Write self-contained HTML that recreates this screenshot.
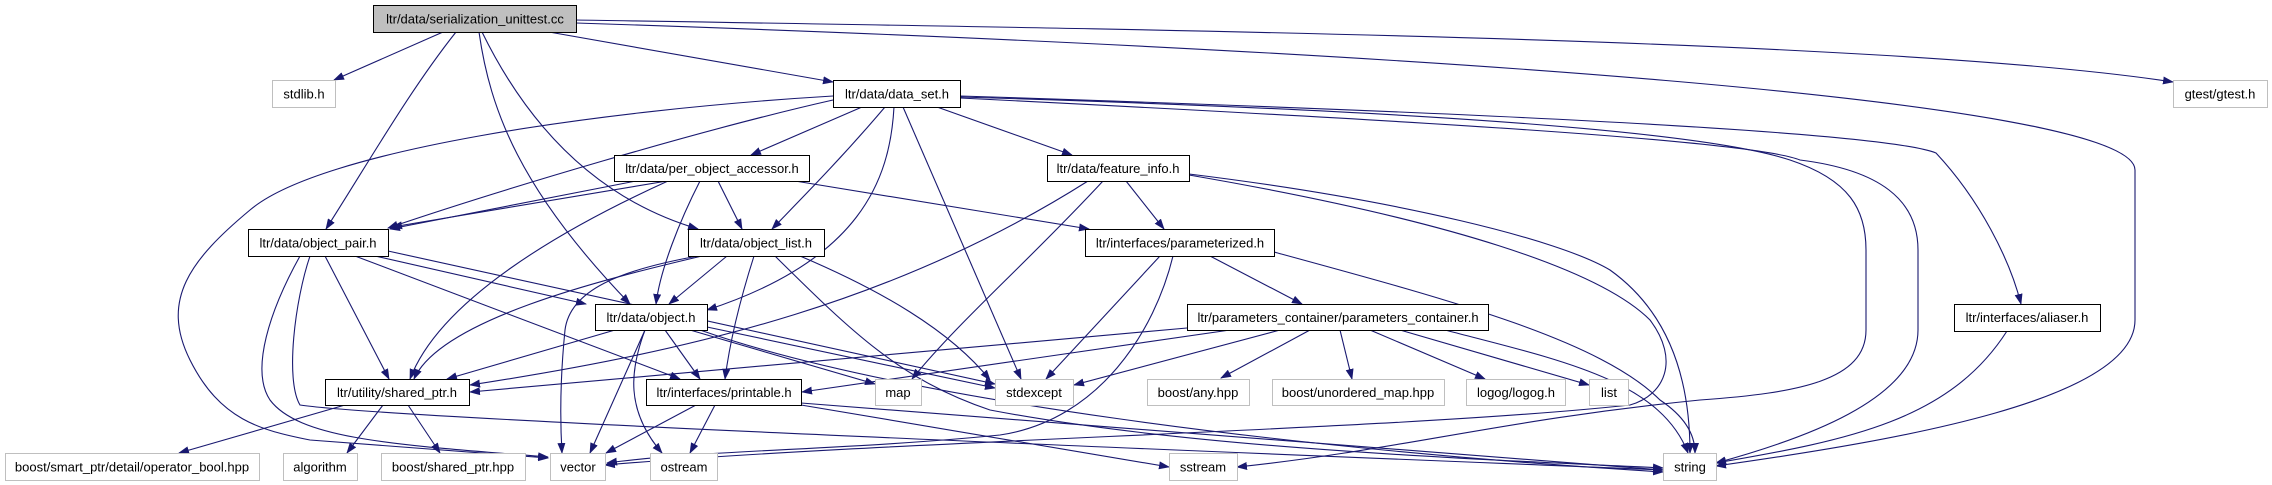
<!DOCTYPE html>
<html><head><meta charset="utf-8"><style>
html,body{margin:0;padding:0;background:#fff;width:2272px;height:485px;overflow:hidden}
text{font-family:"Liberation Sans",Arial,sans-serif;font-size:13px;fill:#000;text-anchor:middle}
.e{fill:none;stroke:#191970;stroke-width:1.1}
.n{fill:#fff;stroke:#000;stroke-width:1}
.x{fill:#fff;stroke:#bfbfbf;stroke-width:1}
</style></head><body>
<svg width="2272" height="485" viewBox="0 0 2272 485" xmlns="http://www.w3.org/2000/svg">
<defs><marker id="a" markerWidth="11" markerHeight="8" refX="10" refY="4" orient="auto" markerUnits="userSpaceOnUse"><path d="M0,0 L11,4 L0,8 z" fill="#191970"/></marker></defs>
<g class="e" marker-end="url(#a)">
<!-- S -->
<path d="M443,32 L334,80"/>
<path d="M456,32 C410,90 370,160 326,229"/>
<path d="M479,32 C490,110 520,190 630,304"/>
<path d="M482,32 C530,130 600,200 698,229"/>
<path d="M549,32 L833,82"/>
<path d="M576,20 C1200,30 1900,40 2173,82"/>
<path d="M576,23 C1400,50 2135,100 2135,170 L2135,320 C2135,400 1900,440 1716,466"/>
<!-- DS -->
<path d="M833,96 C600,110 320,150 250,210 C190,260 160,300 190,360 C220,420 260,430 310,440 L548,458"/>
<path d="M833,100 C700,130 500,190 388,228"/>
<path d="M862,107 L751,155"/>
<path d="M885,107 C840,160 800,200 772,229"/>
<path d="M894,107 C890,180 860,260 707,310"/>
<path d="M903,107 L1021,379"/>
<path d="M937,107 L1072,155"/>
<path d="M960,96 C1400,110 1880,130 1936,153 C1980,200 2010,260 2021,304"/>
<path d="M960,97 C1400,110 1700,130 1790,160 C1850,180 1866,210 1866,250 L1866,330 C1866,380 1800,393 1700,400 C1500,420 1400,450 1237,467"/>
<path d="M960,98 C1400,120 1750,140 1800,160 C1880,170 1918,200 1918,250 L1918,330 C1918,400 1800,440 1716,463"/>
<!-- FI -->
<path d="M1126,181 L1164,229"/>
<path d="M1088,181 C900,300 700,350 470,385"/>
<path d="M1103,181 C1030,260 960,320 912,379"/>
<path d="M1189,174 C1400,200 1560,240 1610,270 C1680,320 1690,400 1690,453"/>
<path d="M1189,175 C1450,220 1600,270 1650,320 C1680,360 1665,395 1630,405 C1400,430 900,440 605,465"/>
<!-- POA -->
<path d="M636,181 L390,229"/>
<path d="M667,181 L392,227"/>
<path d="M718,181 L742,229"/>
<path d="M700,181 C680,220 660,270 656,304"/>
<path d="M668,181 C560,230 440,300 410,379"/>
<path d="M795,181 L1089,229"/>
<!-- OL -->
<path d="M727,256 L669,304"/>
<path d="M702,256 C600,280 440,320 414,379"/>
<path d="M754,256 C740,300 730,340 725,379"/>
<path d="M698,256 C620,270 570,290 565,330 C560,380 560,420 562,453"/>
<path d="M800,256 C880,290 950,330 990,380"/>
<path d="M775,256 C850,330 900,380 990,410 C1200,450 1500,460 1663,468"/>
<!-- OP -->
<path d="M325,256 L389,379"/>
<path d="M375,256 L586,304"/>
<path d="M355,256 L680,379"/>
<path d="M388,251 L995,384"/>
<path d="M300,256 C270,310 250,370 270,400 C300,440 400,445 548,457"/>
<path d="M310,256 C295,300 285,380 300,405 C400,420 1300,455 1663,470"/>
<!-- OBJ -->
<path d="M615,330 L447,379"/>
<path d="M665,330 L700,379"/>
<path d="M645,330 L590,453"/>
<path d="M645,330 C630,370 625,410 662,453"/>
<path d="M690,330 L875,384"/>
<path d="M707,327 L995,388"/>
<path d="M700,330 C900,400 1300,450 1663,472"/>
<!-- PZ -->
<path d="M1160,256 L1046,379"/>
<path d="M1173,256 C1155,330 1100,420 1000,435 C850,450 700,450 607,463"/>
<path d="M1210,256 L1302,304"/>
<path d="M1274,252 C1450,300 1600,340 1660,400 C1690,420 1695,440 1695,453"/>
<!-- PC -->
<path d="M1187,328 L470,392"/>
<path d="M1230,330 L802,392"/>
<path d="M1280,330 L1074,385"/>
<path d="M1310,330 L1221,378"/>
<path d="M1340,330 L1352,379"/>
<path d="M1370,330 L1485,379"/>
<path d="M1400,330 L1589,385"/>
<path d="M1445,330 C1560,360 1660,380 1688,453"/>
<!-- SP -->
<path d="M345,405 L179,453"/>
<path d="M383,405 L347,453"/>
<path d="M408,405 L440,453"/>
<!-- PR -->
<path d="M696,405 L606,453"/>
<path d="M715,405 L690,453"/>
<path d="M801,405 L1169,467"/>
<path d="M801,403 L1663,470"/>
<!-- AL -->
<path d="M2007,331 C1950,420 1850,440 1716,463"/>
</g>
<g>
<rect x="373.5" y="5.5" width="203" height="27" fill="#bfbfbf" stroke="#000"/><text x="475" y="23.5">ltr/data/serialization_unittest.cc</text>
<rect class="x" x="272.5" y="80.5" width="63" height="27"/><text x="304" y="98.5">stdlib.h</text>
<rect class="n" x="833.5" y="80.5" width="127" height="27"/><text x="897" y="98.5">ltr/data/data_set.h</text>
<rect class="x" x="2173.5" y="80.5" width="94" height="27"/><text x="2220" y="98.5">gtest/gtest.h</text>
<rect class="n" x="614.5" y="155.5" width="195" height="26"/><text x="712" y="173">ltr/data/per_object_accessor.h</text>
<rect class="n" x="1047.5" y="155.5" width="142" height="26"/><text x="1118" y="173">ltr/data/feature_info.h</text>
<rect class="n" x="248.5" y="229.5" width="140" height="27"/><text x="318" y="247.5">ltr/data/object_pair.h</text>
<rect class="n" x="688.5" y="229.5" width="136" height="27"/><text x="756" y="247.5">ltr/data/object_list.h</text>
<rect class="n" x="1085.5" y="229.5" width="189" height="27"/><text x="1180" y="247.5">ltr/interfaces/parameterized.h</text>
<rect class="n" x="595.5" y="304.5" width="112" height="26"/><text x="651" y="322">ltr/data/object.h</text>
<rect class="n" x="1187.5" y="304.5" width="301" height="26"/><text x="1338" y="322">ltr/parameters_container/parameters_container.h</text>
<rect class="n" x="1954.5" y="304.5" width="146" height="27"/><text x="2027" y="322">ltr/interfaces/aliaser.h</text>
<rect class="n" x="325.5" y="379.5" width="144" height="26"/><text x="397" y="397">ltr/utility/shared_ptr.h</text>
<rect class="n" x="646.5" y="379.5" width="155" height="26"/><text x="724" y="397">ltr/interfaces/printable.h</text>
<rect class="x" x="875.5" y="379.5" width="46" height="26"/><text x="898" y="397">map</text>
<rect class="x" x="995.5" y="379.5" width="78" height="26"/><text x="1034" y="397">stdexcept</text>
<rect class="x" x="1147.5" y="379.5" width="102" height="26"/><text x="1198" y="397">boost/any.hpp</text>
<rect class="x" x="1272.5" y="379.5" width="172" height="26"/><text x="1358" y="397">boost/unordered_map.hpp</text>
<rect class="x" x="1466.5" y="379.5" width="99" height="26"/><text x="1516" y="397">logog/logog.h</text>
<rect class="x" x="1589.5" y="379.5" width="39" height="26"/><text x="1609" y="397">list</text>
<rect class="x" x="5.5" y="453.5" width="254" height="27"/><text x="132" y="471.5">boost/smart_ptr/detail/operator_bool.hpp</text>
<rect class="x" x="283.5" y="453.5" width="74" height="27"/><text x="320" y="471.5">algorithm</text>
<rect class="x" x="381.5" y="453.5" width="144" height="27"/><text x="453" y="471.5">boost/shared_ptr.hpp</text>
<rect class="x" x="550.5" y="453.5" width="55" height="27"/><text x="578" y="471.5">vector</text>
<rect class="x" x="650.5" y="453.5" width="67" height="27"/><text x="684" y="471.5">ostream</text>
<rect class="x" x="1169.5" y="453.5" width="68" height="27"/><text x="1203" y="471.5">sstream</text>
<rect class="x" x="1663.5" y="453.5" width="53" height="27"/><text x="1690" y="471.5">string</text>
</g>
</svg>
</body></html>
